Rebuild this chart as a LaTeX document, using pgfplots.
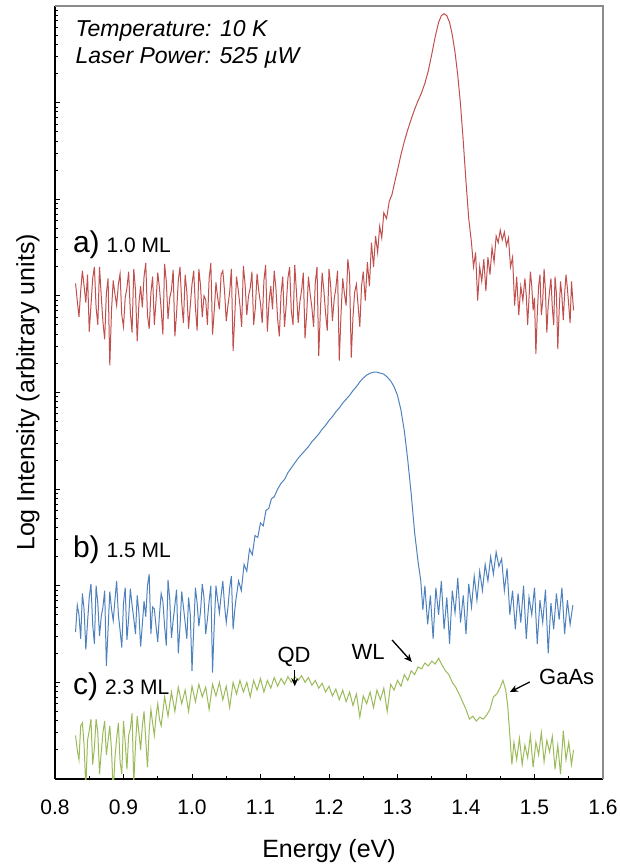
\documentclass[border=0pt]{standalone}
\usepackage{fontspec}
\setmainfont{Liberation Sans}
\usepackage{pgfplots}
\pgfplotsset{compat=1.18}
\usetikzlibrary{arrows.meta}
\definecolor{cred}{HTML}{C0504D}
\definecolor{cblue}{HTML}{4F81BD}
\definecolor{cgreen}{HTML}{9BBB59}
\begin{document}
\begin{tikzpicture}
\useasboundingbox (-55pt,-88pt) rectangle (565pt,779pt);
\begin{axis}[
  name=ax,
  at={(0pt,0pt)}, anchor=south west,
  scale only axis, width=548pt, height=773pt,
  xmin=0.8, xmax=1.6, ymin=0, ymax=8,
  axis lines*=left,
  axis line style={-, line width=1.4pt, black},
  xtick={0.8,0.9,1.0,1.1,1.2,1.3,1.4,1.5,1.6},
  xticklabels={0.8,0.9,1.0,1.1,1.2,1.3,1.4,1.5,1.6},
  minor xtick={0.85,0.95,1.05,1.15,1.25,1.35,1.45,1.55},
  ytick={0,1,2,3,4,5,6,7,8},
  yticklabels={},
  minor ytick={0.301,0.477,0.602,0.699,0.778,0.845,0.903,0.954,
    1.301,1.477,1.602,1.699,1.778,1.845,1.903,1.954,
    2.301,2.477,2.602,2.699,2.778,2.845,2.903,2.954,
    3.301,3.477,3.602,3.699,3.778,3.845,3.903,3.954,
    4.301,4.477,4.602,4.699,4.778,4.845,4.903,4.954,
    5.301,5.477,5.602,5.699,5.778,5.845,5.903,5.954,
    6.301,6.477,6.602,6.699,6.778,6.845,6.903,6.954,
    7.301,7.477,7.602,7.699,7.778,7.845,7.903,7.954},
  tick align=inside,
  major tick length=5pt, minor tick length=3.5pt,
  tick style={black, line width=1pt},
  xticklabel style={font=\fontsize{21}{21}\selectfont, anchor=center, yshift=-28pt},
  every axis x label/.style={at={(axis description cs:0.5,0)}, anchor=center, yshift=-72pt, font=\fontsize{25}{25}\selectfont},
  every axis y label/.style={at={(axis description cs:0,0.5)}, rotate=90, anchor=center, yshift=27pt, font=\fontsize{25}{25}\selectfont},
  xlabel={Energy (eV)},
  ylabel={Log Intensity (arbitrary units)},
]
% a) 1.0 ML
\addplot[cred, line width=1pt] table {
0.8300 5.13
0.8325 4.95
0.8350 4.78
0.8375 5.05
0.8400 5.26
0.8425 5.10
0.8450 4.93
0.8475 5.22
0.8500 4.63
0.8525 4.90
0.8550 5.18
0.8575 5.30
0.8600 4.88
0.8625 4.70
0.8650 5.30
0.8675 5.00
0.8700 4.73
0.8725 4.55
0.8750 5.03
0.8775 5.18
0.8800 4.28
0.8825 4.85
0.8850 5.16
0.8875 5.02
0.8900 4.90
0.8925 5.12
0.8950 5.23
0.8975 4.80
0.9000 4.68
0.9025 4.98
0.9050 5.08
0.9075 5.25
0.9100 4.83
0.9125 4.62
0.9150 5.28
0.9175 5.06
0.9200 4.53
0.9225 4.92
0.9250 5.10
0.9275 4.88
0.9300 5.20
0.9325 5.34
0.9350 4.80
0.9375 4.66
0.9400 5.03
0.9425 5.20
0.9450 4.70
0.9475 4.95
0.9500 5.24
0.9525 5.08
0.9550 4.86
0.9575 4.60
0.9600 5.33
0.9625 5.15
0.9650 4.76
0.9675 4.98
0.9700 5.06
0.9725 5.27
0.9750 4.58
0.9775 4.82
0.9800 5.16
0.9825 5.30
0.9850 4.93
0.9875 4.72
0.9900 5.22
0.9925 5.04
0.9950 4.66
0.9975 4.90
1.0000 5.12
1.0025 5.26
1.0050 4.88
1.0075 4.64
1.0100 5.28
1.0125 5.10
1.0150 4.78
1.0175 5.00
1.0200 4.96
1.0225 4.70
1.0250 5.18
1.0275 5.34
1.0300 4.60
1.0325 4.85
1.0350 5.14
1.0375 4.98
1.0400 4.86
1.0425 5.22
1.0450 5.26
1.0475 5.05
1.0500 4.74
1.0525 4.90
1.0550 5.04
1.0575 5.28
1.0600 4.43
1.0625 4.80
1.0650 5.20
1.0675 5.06
1.0700 4.90
1.0725 4.68
1.0750 5.31
1.0775 5.12
1.0800 4.80
1.0825 5.00
1.0850 5.08
1.0875 5.25
1.0900 4.70
1.0925 4.88
1.0950 5.23
1.0975 5.05
1.1000 4.92
1.1025 4.72
1.1050 5.16
1.1075 5.32
1.1100 4.63
1.1125 4.94
1.1150 5.10
1.1175 4.86
1.1200 5.26
1.1225 5.08
1.1250 4.76
1.1275 4.58
1.1300 5.02
1.1325 5.20
1.1350 4.68
1.1375 4.90
1.1400 5.18
1.1425 5.30
1.1450 4.84
1.1475 4.70
1.1500 5.32
1.1525 5.04
1.1550 4.72
1.1575 4.94
1.1600 5.06
1.1625 5.24
1.1650 4.56
1.1675 4.82
1.1700 5.20
1.1725 5.02
1.1750 4.88
1.1775 4.68
1.1800 5.14
1.1825 5.30
1.1850 4.38
1.1875 4.86
1.1900 5.24
1.1925 5.06
1.1950 4.82
1.1975 4.64
1.2000 5.28
1.2025 5.10
1.2050 4.74
1.2075 4.96
1.2100 5.08
1.2125 5.26
1.2150 4.33
1.2175 4.80
1.2200 5.18
1.2225 5.02
1.2250 4.90
1.2275 5.38
1.2300 5.22
1.2325 4.36
1.2350 4.78
1.2375 5.04
1.2400 5.12
1.2425 4.90
1.2450 4.68
1.2475 5.10
1.250 5.25
1.253 4.95
1.256 5.35
1.259 5.10
1.262 5.55
1.265 5.30
1.268 5.62
1.271 5.45
1.274 5.72
1.277 5.60
1.280 5.86
1.284 5.80
1.288 5.98
1.292 6.05
1.296 6.18
1.300 6.30
1.305 6.46
1.310 6.60
1.315 6.72
1.320 6.83
1.325 6.93
1.330 7.02
1.335 7.10
1.340 7.20
1.345 7.33
1.350 7.50
1.355 7.68
1.360 7.83
1.364 7.90
1.368 7.92
1.372 7.90
1.376 7.83
1.380 7.70
1.384 7.52
1.388 7.28
1.392 6.98
1.396 6.60
1.400 6.18
1.404 5.80
1.408 5.55
1.411 5.30
1.414 5.45
1.417 4.95
1.420 5.30
1.423 5.15
1.426 5.38
1.429 5.05
1.432 5.40
1.435 5.22
1.438 5.50
1.441 5.35
1.444 5.62
1.447 5.55
1.450 5.68
1.453 5.58
1.456 5.66
1.459 5.52
1.462 5.60
1.465 5.30
1.468 5.40
1.471 4.90
1.474 5.20
1.477 4.80
1.480 5.10
1.483 4.95
1.486 5.18
1.488 5.00
1.490 4.70
1.492 4.98
1.494 5.25
1.496 5.10
1.498 4.85
1.500 4.98
1.502 4.40
1.504 4.80
1.506 5.10
1.508 5.22
1.510 4.80
1.512 4.95
1.514 5.28
1.516 5.05
1.518 4.62
1.520 4.90
1.522 5.05
1.524 5.18
1.526 4.88
1.528 4.70
1.530 5.20
1.532 5.02
1.534 4.45
1.536 4.85
1.538 5.15
1.540 5.00
1.542 4.75
1.544 5.02
1.546 5.22
1.548 5.08
1.550 4.90
1.552 4.72
1.554 5.15
1.557 4.85
};
% b) 1.5 ML
\addplot[cblue, line width=1pt] table {
0.8300 1.52
0.8325 1.80
0.8350 1.70
0.8375 1.45
0.8400 1.92
0.8425 1.75
0.8450 1.34
0.8475 1.62
0.8500 1.88
0.8525 2.02
0.8550 1.60
0.8575 1.40
0.8600 2.00
0.8625 1.82
0.8650 1.48
0.8675 1.68
0.8700 1.78
0.8725 1.95
0.8750 1.17
0.8775 1.55
0.8800 1.94
0.8825 1.76
0.8850 1.64
0.8875 1.85
0.8900 2.05
0.8925 1.70
0.8950 1.54
0.8975 1.36
0.9000 1.82
0.9025 1.98
0.9050 1.44
0.9075 1.66
0.9100 1.97
0.9125 1.80
0.9150 1.66
0.9175 1.50
0.9200 1.90
0.9225 1.72
0.9250 1.37
0.9275 1.60
0.9300 1.84
0.9325 1.68
0.9350 2.00
0.9375 2.12
0.9400 1.50
0.9425 1.78
0.9450 1.76
0.9475 1.58
0.9500 1.42
0.9525 1.70
0.9550 1.92
0.9575 1.84
0.9600 1.58
0.9625 1.38
0.9650 2.06
0.9675 1.86
0.9700 1.46
0.9725 1.64
0.9750 1.80
0.9775 1.96
0.9800 1.30
0.9825 1.58
0.9850 1.94
0.9875 1.78
0.9900 1.62
0.9925 1.45
0.9950 1.88
0.9975 1.70
1.0000 1.12
1.0025 1.55
1.0050 1.98
1.0075 1.82
1.0100 1.58
1.0125 1.74
1.0150 2.02
1.0175 1.88
1.0200 1.50
1.0225 1.65
1.0250 1.84
1.0275 2.00
1.0300 1.10
1.0325 1.60
1.0350 2.00
1.0375 1.85
1.0400 1.72
1.0425 1.90
1.0450 2.05
1.0475 1.80
1.0500 1.62
1.0525 1.78
1.0550 1.98
1.0575 2.10
1.0600 1.55
1.0625 1.75
1.064 1.85
1.068 2.05
1.072 1.95
1.076 2.22
1.080 2.15
1.084 2.38
1.088 2.32
1.092 2.52
1.096 2.50
1.100 2.65
1.104 2.62
1.108 2.78
1.112 2.80
1.116 2.90
1.120 2.92
1.125 3.00
1.130 3.06
1.135 3.10
1.140 3.17
1.145 3.22
1.150 3.27
1.155 3.32
1.160 3.36
1.165 3.40
1.170 3.44
1.175 3.49
1.180 3.53
1.185 3.57
1.190 3.62
1.195 3.66
1.200 3.71
1.205 3.75
1.210 3.80
1.215 3.84
1.220 3.89
1.225 3.93
1.230 3.97
1.235 4.02
1.240 4.06
1.245 4.11
1.250 4.15
1.255 4.18
1.260 4.20
1.265 4.21
1.270 4.21
1.275 4.20
1.280 4.19
1.285 4.16
1.290 4.12
1.295 4.06
1.300 3.97
1.305 3.82
1.310 3.60
1.315 3.30
1.320 2.95
1.325 2.55
1.330 2.25
1.334 2.05
1.337 1.75
1.340 2.00
1.344 1.60
1.348 1.90
1.352 1.45
1.356 1.98
1.360 1.70
1.364 2.05
1.368 1.55
1.372 1.88
1.376 1.40
1.380 1.95
1.384 1.72
1.388 2.08
1.392 1.62
1.396 1.90
1.400 1.50
1.404 2.02
1.408 1.78
1.412 2.10
1.416 1.85
1.420 2.15
1.424 1.95
1.428 2.22
1.432 2.05
1.436 2.30
1.440 2.12
1.444 2.35
1.448 2.20
1.452 2.28
1.456 1.95
1.460 2.18
1.464 1.70
1.468 1.95
1.472 1.55
1.476 1.92
1.480 1.62
1.484 2.00
1.488 1.45
1.492 1.88
1.496 1.70
1.500 1.98
1.504 1.40
1.508 1.85
1.512 1.62
1.516 1.96
1.520 1.30
1.524 1.82
1.528 1.55
1.532 1.92
1.536 1.65
1.540 1.98
1.544 1.50
1.548 1.85
1.552 1.60
1.556 1.80
};
% c) 2.3 ML
\addplot[cgreen, line width=1pt] table {
0.8300 0.45
0.8325 0.30
0.8350 0.20
0.8375 0.55
0.8400 0.58
0.8425 0.35
0.8450 -0.10
0.8475 0.40
0.8500 0.50
0.8525 0.62
0.8550 0.15
0.8575 0.32
0.8600 0.62
0.8625 0.48
0.8650 0.05
0.8675 0.28
0.8700 0.48
0.8725 0.60
0.8750 0.25
0.8775 0.40
0.8800 0.55
0.8825 0.30
0.8850 -0.15
0.8875 0.22
0.8900 0.42
0.8925 0.58
0.8950 0.18
0.8975 0.05
0.9000 0.60
0.9025 0.38
0.9050 0.10
0.9075 0.45
0.9100 0.52
0.9125 0.68
0.9150 -0.05
0.9175 0.35
0.9200 0.65
0.9225 0.48
0.9250 0.30
0.9275 0.55
0.9300 0.70
0.9325 0.40
0.9350 0.12
0.9375 0.50
0.9400 0.72
0.9425 0.58
0.9450 0.45
0.9475 0.65
0.9500 0.78
0.9525 0.62
0.955 0.55
0.960 0.85
0.965 0.65
0.970 0.90
0.975 0.70
0.980 0.95
0.985 0.78
0.990 0.92
0.995 0.70
1.000 0.96
1.005 0.80
1.010 0.98
1.015 0.85
1.020 0.95
1.025 0.72
1.030 0.98
1.035 0.86
1.040 1.00
1.045 0.82
1.050 0.96
1.055 0.74
1.060 1.00
1.065 0.88
1.070 1.02
1.075 0.90
1.080 1.00
1.085 0.85
1.090 1.02
1.095 0.92
1.100 1.04
1.105 0.90
1.110 1.02
1.115 0.94
1.120 1.05
1.125 0.96
1.130 1.04
1.135 0.98
1.140 1.06
1.145 1.00
1.150 1.06
1.155 1.02
1.160 1.07
1.165 1.00
1.170 1.05
1.175 0.97
1.180 1.02
1.185 0.94
1.190 0.99
1.195 0.90
1.200 0.96
1.205 0.86
1.210 0.93
1.215 0.82
1.220 0.92
1.225 0.80
1.230 0.90
1.235 0.76
1.240 0.88
1.245 0.64
1.250 0.86
1.255 0.78
1.260 0.90
1.265 0.74
1.270 0.92
1.275 0.82
1.280 0.94
1.285 0.70
1.290 0.98
1.295 0.92
1.300 1.02
1.305 0.96
1.310 1.08
1.315 1.02
1.320 1.12
1.325 1.08
1.330 1.16
1.335 1.14
1.340 1.20
1.345 1.17
1.350 1.22
1.355 1.19
1.360 1.25
1.365 1.18
1.370 1.12
1.375 1.08
1.380 1.00
1.385 0.95
1.390 0.88
1.395 0.80
1.400 0.72
1.405 0.62
1.410 0.65
1.415 0.60
1.420 0.64
1.425 0.62
1.430 0.66
1.435 0.72
1.440 0.85
1.445 0.88
1.450 0.95
1.454 1.02
1.458 0.92
1.461 0.75
1.464 0.45
1.467 0.15
1.470 0.38
1.474 0.20
1.478 0.42
1.482 0.15
1.486 0.35
1.490 0.22
1.494 0.45
1.498 0.12
1.502 0.38
1.506 0.25
1.510 0.48
1.514 0.18
1.518 0.40
1.522 0.28
1.526 0.44
1.530 0.10
1.534 0.35
1.538 0.05
1.542 0.50
1.546 0.20
1.550 0.38
1.554 0.15
1.557 0.30
};
\node[anchor=base west, font=\fontsize{23}{23}\selectfont\itshape] at (axis cs:0.825,7.68) {Temperature: 10 K};
\node[anchor=base west, font=\fontsize{23}{23}\selectfont\itshape] at (axis cs:0.825,7.41) {Laser Power: 525 µW};
\node[anchor=base west, inner sep=0pt] at (axis cs:0.826,5.445) {\fontsize{30}{30}\selectfont a)\hspace{7pt}\fontsize{21}{21}\selectfont 1.0 ML};
\node[anchor=base west, inner sep=0pt] at (axis cs:0.826,2.288) {\fontsize{30}{30}\selectfont b)\hspace{7pt}\fontsize{21}{21}\selectfont 1.5 ML};
\node[anchor=base west, inner sep=0pt] at (axis cs:0.826,0.870) {\fontsize{30}{30}\selectfont c)\hspace{7pt}\fontsize{21}{21}\selectfont 2.3 ML};
\node[font=\fontsize{22}{22}\selectfont] at (axis cs:1.149,1.263) {QD};
\node[font=\fontsize{22}{22}\selectfont] at (axis cs:1.257,1.315) {WL};
\node[font=\fontsize{22}{22}\selectfont] at (axis cs:1.547,1.056) {GaAs};
\draw[-{Stealth[length=8pt,width=7pt]}, line width=1.3pt] (axis cs:1.150,1.13) -- (axis cs:1.150,0.96);
\draw[-{Stealth[length=8pt,width=7pt]}, line width=1.3pt] (axis cs:1.292,1.439) -- (axis cs:1.321,1.211);
\draw[-{Stealth[length=8pt,width=7pt]}, line width=1.3pt] (axis cs:1.493,1.004) -- (axis cs:1.464,0.90);
\end{axis}
\draw[gray!90, line width=1.8pt] (ax.north west) -- (ax.north east) -- (ax.south east);
\end{tikzpicture}
\end{document}
